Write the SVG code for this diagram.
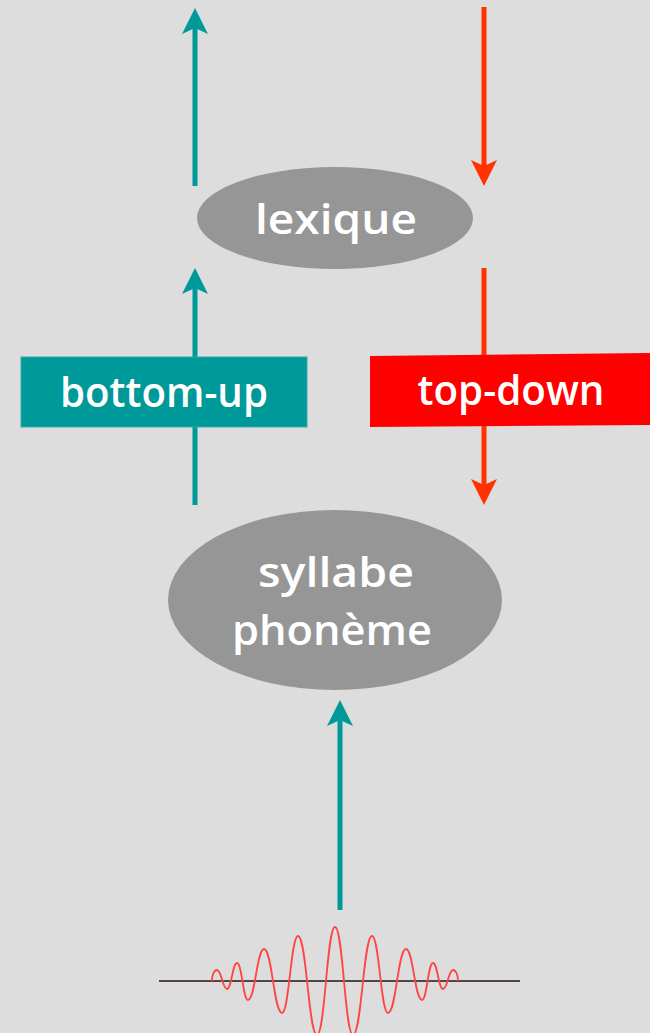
<svg xmlns="http://www.w3.org/2000/svg" width="650" height="1033" viewBox="0 0 650 1033">
  <style>
    .node-ellipse { fill: #969696; }
    .label { font-family: "Open Sans", "Noto Sans", "DejaVu Sans", sans-serif; font-weight: 600; font-size: 42px; fill: #ffffff; text-anchor: middle; }
    .up { stroke: #009999; stroke-width: 5; fill: none; }
    .down { stroke: #ff3300; stroke-width: 5; fill: none; }
  </style>
  <defs>
    <marker id="head-teal" markerUnits="userSpaceOnUse" markerWidth="26" markerHeight="26" refX="6" refY="13" orient="auto" overflow="visible">
      <path d="M26,13 L0,0 L6,13 L0,26 Z" fill="#009999"/>
    </marker>
    <marker id="head-red" markerUnits="userSpaceOnUse" markerWidth="26" markerHeight="26" refX="6" refY="13" orient="auto" overflow="visible">
      <path d="M26,13 L0,0 L6,13 L0,26 Z" fill="#ff3300"/>
    </marker>
  </defs>
  <rect x="0" y="0" width="650" height="1033" fill="#dddddd"/>

  <g id="connectors">
    <line class="up" x1="195" y1="186" x2="195" y2="28" marker-end="url(#head-teal)"/>
    <line class="down" x1="484" y1="7" x2="484" y2="166" marker-end="url(#head-red)"/>
    <line class="up" x1="195" y1="505" x2="195" y2="288" marker-end="url(#head-teal)"/>
    <line class="down" x1="484" y1="268" x2="484" y2="485" marker-end="url(#head-red)"/>
    <line class="up" x1="340" y1="910" x2="340" y2="720" marker-end="url(#head-teal)"/>
  </g>

  <g id="lexique">
    <ellipse class="node-ellipse" cx="335" cy="218" rx="138" ry="51"/>
    <text class="label" x="336" y="234" textLength="162" lengthAdjust="spacingAndGlyphs">lexique</text>
  </g>

  <g id="bottom-up">
    <rect x="21" y="357" width="286" height="70" fill="#009999" stroke="#33aaaa" stroke-width="1"/>
    <text class="label" x="164" y="407" textLength="208" lengthAdjust="spacingAndGlyphs">bottom-up</text>
  </g>

  <g id="top-down">
    <polygon points="370,356 650,353 650,425 370,427" fill="#ff0000"/>
    <text class="label" x="511" y="405" textLength="187" lengthAdjust="spacingAndGlyphs">top-down</text>
  </g>

  <g id="syllabe-phoneme">
    <ellipse class="node-ellipse" cx="335" cy="600" rx="167" ry="90"/>
    <text class="label" x="336" y="587" textLength="156" lengthAdjust="spacingAndGlyphs">syllabe</text>
    <text class="label" x="332" y="645" textLength="200" lengthAdjust="spacingAndGlyphs">phonème</text>
  </g>

  <g id="waveform">
    <line x1="159" y1="981" x2="520" y2="981" stroke="#2b1010" stroke-width="1.5"/>
    <path fill="none" stroke="#ff4444" stroke-width="1.8" d="M212,981 C212,975 214,970 217,970 C221.5,970 222.5,989 227,989 C231.5,989 232.5,963 237,963 C242,963 243,1000 248,1000 C255.2,1000 256.8,949 264,949 C272.1,949 273.9,1013 282,1013 C289.2,1013 290.8,936 298,936 C306.6,936 308.5,1035 317,1035 C325.1,1035 326.9,927 335,927 C343.1,927 344.9,1035 353,1035 C361.6,1035 363.5,936 372,936 C379.2,936 380.8,1013 388,1013 C396.1,1013 397.9,949 406,949 C413.2,949 414.8,1000 422,1000 C427,1000 428,963 433,963 C437.5,963 438.5,989 443,989 C447.5,989 448.5,970 453,970 C456,970 458,975 458,981"/>
  </g>
</svg>
